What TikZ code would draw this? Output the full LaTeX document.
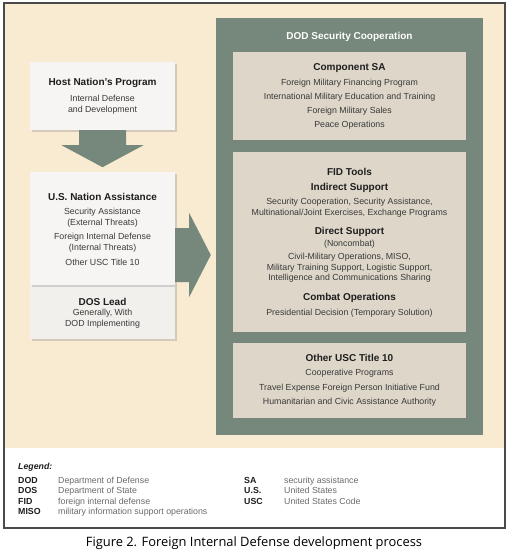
\documentclass[tikz,border=0pt]{standalone}
\usepackage{fontspec}
\setmainfont{Liberation Sans}
\newfontfamily\captionfont{Open Sans}
\usepackage{tikz}
\usetikzlibrary{calc, shadows}
\definecolor{sandbg}{HTML}{F8EBD2}
\definecolor{coopgreen}{HTML}{76887B}
\definecolor{toolbox}{HTML}{DDD6C9}
\definecolor{paper}{HTML}{F6F5F3}
\definecolor{paperdim}{HTML}{F1F0ED}
\definecolor{framegray}{HTML}{4A4A4A}
\definecolor{inktext}{HTML}{1E1E1E}
\definecolor{bodytext}{HTML}{3A3A3A}
\definecolor{legendgray}{HTML}{6A6A6A}

\begin{document}
\begin{tikzpicture}[x=1pt, y=-1pt,
    box/.style={inner sep=0pt, drop shadow={opacity=0.3, shadow xshift=1.5pt, shadow yshift=-1.5pt}},
    head/.style={font=\bfseries\fontsize{10}{12}\selectfont, text=inktext, inner sep=0pt},
    body/.style={font=\fontsize{8.8}{11}\selectfont, text=bodytext, align=center, inner sep=0pt},
    abbr/.style={font=\bfseries\fontsize{8.8}{10}\selectfont, text=inktext, anchor=west,
      inner sep=0pt, text height=6.5pt, text depth=1.8pt},
    longform/.style={font=\fontsize{8.8}{10}\selectfont, text=legendgray, anchor=west,
      inner sep=0pt, text height=6.5pt, text depth=1.8pt}]

    \useasboundingbox (0,0) rectangle (508,560);

    % Frame: sand area on top, legend below
    \fill[sandbg] (4,3) rectangle (505,448);
    \draw[draw=framegray, line width=1.5pt] (4,3) rectangle (505,528);

    % DOD security cooperation panel
    \node[fill=coopgreen, inner sep=0pt, minimum width=267pt, minimum height=417pt]
      (coop) at (349.5,226.5) {};
    \node[head, text=white] (coopTitle) at (349.5,37) {DOD Security Cooperation};

    % Left column boxes
    \node[box, fill=paper, minimum width=145pt, minimum height=68pt] (host) at (102.5,96) {};
    \node[box, fill=paperdim, minimum width=145pt, minimum height=54pt] (dos) at (102.5,312) {};
    \node[box, fill=paper, minimum width=145pt, minimum height=113pt] (us) at (102.5,228.5) {};

    % Down arrow: host nation -> U.S.
    \fill[coopgreen] ($(host.south)+(-23.5,0)$) -- ++(0,15) -- ++(-17.5,0)
      -- ($(host.south)+(0,37)$) -- ($(host.south)+(41,15)$) -- ++(-17.5,0)
      -- ($(host.south)+(23.5,0)$) -- cycle;

    % Right arrow: U.S. -> DOD panel
    \coordinate (arrowlevel) at (0,255);
    \coordinate (fromUS) at (us.east |- arrowlevel);
    \fill[coopgreen] ($(fromUS)+(0,-27)$) -- ++(14,0) -- ++(0,-15)
      -- ($(coop.west |- fromUS)+(-5,0)$) -- ($(fromUS)+(14,42)$) -- ++(0,-15)
      -- ($(fromUS)+(0,27)$) -- cycle;

    % Left column labels
    \node[head] (hostTitle) at (102.5,83) {Host Nation's Program};
    \node[body] (hostBody) at (102.5,104.5) {Internal Defense\\and Development};

    \node[head] (usTitle) at (102.5,197) {U.S. Nation Assistance};
    \node[body] (usExt) at (102.5,217.5) {Security Assistance\\(External Threats)};
    \node[body] (usInt) at (102.5,242.5) {Foreign Internal Defense\\(Internal Threats)};
    \node[body] (usOther) at (102.5,262) {Other USC Title 10};

    \node[head] (dosTitle) at (102.5,302) {DOS Lead};
    \node[body] (dosBody) at (102.5,318.5) {Generally, With\\DOD Implementing};

    % Right column boxes
    \node[box, fill=toolbox, minimum width=233pt, minimum height=88pt] (compSA) at (349.5,96) {};
    \node[box, fill=toolbox, minimum width=233pt, minimum height=180pt] (fid) at (349.5,242) {};
    \node[box, fill=toolbox, minimum width=233pt, minimum height=75pt] (title10) at (349.5,380.5) {};

    \node[head] (compTitle) at (349.5,68) {Component SA};
    \node[body, font=\fontsize{8.8}{14}\selectfont] (compBody) at (349.5,104)
      {Foreign Military Financing Program\\International Military Education and Training\\Foreign Military Sales\\Peace Operations};

    \node[head] (fidTitle) at (349.5,172) {FID Tools};
    \node[head] (indTitle) at (349.5,188) {Indirect Support};
    \node[body] (indBody) at (349.5,207.5)
      {Security Cooperation, Security Assistance,\\Multinational/Joint Exercises, Exchange Programs};
    \node[head] (dirTitle) at (349.5,232) {Direct Support};
    \node[body] (dirNote) at (349.5,244) {(Noncombat)};
    \node[body, font=\fontsize{8.8}{10.5}\selectfont] (dirBody) at (349.5,268)
      {Civil-Military Operations, MISO,\\Military Training Support, Logistic Support,\\Intelligence and Communications Sharing};
    \node[head] (combTitle) at (349.5,298) {Combat Operations};
    \node[body] (combBody) at (349.5,313) {Presidential Decision (Temporary Solution)};

    \node[head] (t10Title) at (349.5,358) {Other USC Title 10};
    \node[body, font=\fontsize{8.8}{14.5}\selectfont] (t10Body) at (349.5,388)
      {Cooperative Programs\\Travel Expense Foreign Person Initiative Fund\\Humanitarian and Civic Assistance Authority};

    % Legend
    \node[abbr, font=\bfseries\itshape\fontsize{8.8}{10}\selectfont] (legendTitle) at (18,467) {Legend:};
    \foreach \short/\full [count=\i] in {DOD/Department of Defense, DOS/Department of State,
        FID/foreign internal defense, MISO/military information support operations} {
      \node[abbr] (abbrL\i) at (18,470.5+10.4*\i) {\short};
      \node[longform] (fullL\i) at (58,470.5+10.4*\i) {\full};
    }
    \foreach \short/\full [count=\i] in {SA/security assistance, U.S./United States,
        USC/United States Code} {
      \node[abbr] (abbrR\i) at (244,470.5+10.4*\i) {\short};
      \node[longform] (fullR\i) at (284,470.5+10.4*\i) {\full};
    }

    % Caption
    \node[font=\captionfont\fontsize{12.9}{15}\selectfont, text=black] (caption) at (254,543)
      {Figure 2. Foreign Internal Defense development process};

\end{tikzpicture}
\end{document}
